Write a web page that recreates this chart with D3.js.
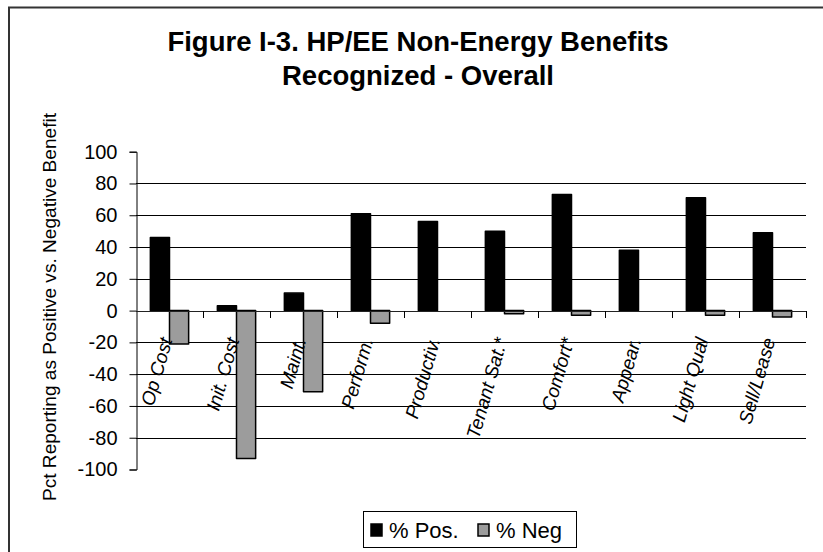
<!DOCTYPE html>
<html>
<head>
<meta charset="utf-8">
<script src="https://cdn.jsdelivr.net/npm/d3@7"></script>
<style>
  html, body { margin: 0; padding: 0; background: #fff; }
  svg { display: block; font-family: "Liberation Sans", Arial, sans-serif; }
</style>
</head>
<body>
<svg id="chart" width="823" height="552"></svg>
<script>
// Non-energy benefit categories and the share reporting each as positive / negative
const categories = ["Op Cost", "Init. Cost", "Maint.", "Perform.", "Productiv.",
                    "Tenant Sat.*", "Comfort*", "Appear.", "Light Qual", "Sell/Lease"];
const posValues = [46, 3, 11, 61, 56, 50, 73, 38, 71, 49];
const negValues = [-21, -93, -51, -8, 0, -2, -3, 0, -3, -4];
const yTicks = [-100, -80, -60, -40, -20, 0, 20, 40, 60, 80, 100];
const seriesNames = ["% Pos.", "% Neg"];
const seriesColors = ["#000000", "#9c9c9c"];
const titleLines = ["Figure I-3. HP/EE Non-Energy Benefits", "Recognized - Overall"];
const yTitle = "Pct Reporting as Positive vs. Negative Benefit";

const svg = d3.select("#chart");

// Plot area
const plot = { left: 136, right: 806, top: 151.7, bottom: 469.5 };

const x = d3.scaleBand().domain(categories).range([plot.left, plot.right]).paddingInner(0).paddingOuter(0);
const y = d3.scaleLinear().domain([-100, 100]).range([plot.bottom, plot.top]);

// Clustered bars: two bars per category with a 150% gap between clusters
const barW = x.bandwidth() / 3.5;
const gapHalf = barW * 0.75;

// Outer chart frame
svg.append("rect")
  .attr("x", 9).attr("y", 7.5)
  .attr("width", 840).attr("height", 570)
  .attr("fill", "none").attr("stroke", "#333").attr("stroke-width", 2);

// Title
svg.append("g").selectAll("text")
  .data(titleLines)
  .join("text")
  .attr("x", 418)
  .attr("y", (d, i) => 51 + i * 34)
  .attr("text-anchor", "middle")
  .attr("font-size", 27.5)
  .attr("font-weight", "bold")
  .attr("fill", "#000")
  .text(d => d);

// Horizontal gridlines (no line at the ±100 limits)
svg.append("g").selectAll("line")
  .data(yTicks.filter(v => v !== 0 && Math.abs(v) !== 100))
  .join("line")
  .attr("x1", plot.left).attr("x2", plot.right)
  .attr("y1", d => Math.round(y(d)) + 0.5).attr("y2", d => Math.round(y(d)) + 0.5)
  .attr("stroke", "#000").attr("stroke-width", 1);

// Y axis
const yAxis = d3.axisLeft(y).tickValues(yTicks).tickSize(7).tickPadding(12).tickFormat(d => String(d));
const yAxisG = svg.append("g")
  .attr("transform", `translate(${plot.left + 0.5},0)`)
  .call(yAxis);
yAxisG.select(".domain").attr("stroke", "#000");
yAxisG.selectAll(".tick line").attr("stroke", "#000");
yAxisG.selectAll(".tick text")
  .attr("font-family", "Liberation Sans, Arial, sans-serif")
  .attr("font-size", 20)
  .attr("fill", "#000");

// Y axis title
svg.append("text")
  .attr("transform", `translate(56,307) rotate(-90)`)
  .attr("text-anchor", "middle")
  .attr("font-size", 17.5)
  .attr("textLength", 388)
  .attr("lengthAdjust", "spacingAndGlyphs")
  .attr("fill", "#000")
  .text(yTitle);

// Bars
const bars = svg.append("g");
bars.selectAll("rect.pos")
  .data(categories)
  .join("rect")
  .attr("class", "pos")
  .attr("x", d => x(d) + gapHalf)
  .attr("width", barW)
  .attr("y", (d, i) => y(Math.max(0, posValues[i])))
  .attr("height", (d, i) => Math.abs(y(posValues[i]) - y(0)))
  .attr("fill", seriesColors[0])
  .attr("stroke", "#000").attr("stroke-width", 1.5).attr("stroke-linejoin", "round");

bars.selectAll("rect.neg")
  .data(categories.filter((d, i) => negValues[i] !== 0))
  .join("rect")
  .attr("class", "neg")
  .attr("x", d => x(d) + gapHalf + barW)
  .attr("width", barW)
  .attr("y", d => y(0))
  .attr("height", d => Math.abs(y(negValues[categories.indexOf(d)]) - y(0)))
  .attr("fill", seriesColors[1])
  .attr("stroke", "#000").attr("stroke-width", 1.5).attr("stroke-linejoin", "round");

// Category axis along zero, ticks between categories
const xAxisG = svg.append("g");
xAxisG.append("line")
  .attr("x1", plot.left).attr("x2", plot.right)
  .attr("y1", Math.round(y(0)) + 0.5).attr("y2", Math.round(y(0)) + 0.5)
  .attr("stroke", "#222").attr("stroke-width", 1);
xAxisG.selectAll("line.tick")
  .data(categories)
  .join("line")
  .attr("class", "tick")
  .attr("x1", d => Math.round(x(d) + x.bandwidth()) + 0.5)
  .attr("x2", d => Math.round(x(d) + x.bandwidth()) + 0.5)
  .attr("y1", Math.round(y(0)))
  .attr("y2", Math.round(y(0)) + 7)
  .attr("stroke", "#000");

// Rotated category labels below the axis
xAxisG.selectAll("text")
  .data(categories)
  .join("text")
  .attr("transform", d => `translate(${x(d) + x.bandwidth() / 2 + 3},340) rotate(-74)`)
  .attr("text-anchor", "end")
  .attr("font-size", 19)
  .attr("font-style", "italic")
  .attr("fill", "#000")
  .text(d => d);

// Legend
const legend = svg.append("g");
legend.append("rect")
  .attr("x", 363.5).attr("y", 511.5).attr("width", 213).attr("height", 36)
  .attr("fill", "#fff").attr("stroke", "#000").attr("stroke-width", 1);
const legendX = [370, 477];
const legendItems = legend.selectAll("g.item")
  .data(seriesNames)
  .join("g")
  .attr("class", "item")
  .attr("transform", (d, i) => `translate(${legendX[i]},0)`);
legendItems.append("rect")
  .attr("x", 1).attr("y", 524).attr("width", 11).attr("height", 12)
  .attr("fill", (d, i) => seriesColors[i])
  .attr("stroke", "#000").attr("stroke-width", 1.5);
legendItems.append("text")
  .attr("x", 19).attr("y", 538)
  .attr("font-size", 22)
  .attr("fill", "#000")
  .text(d => d);
</script>
</body>
</html>
